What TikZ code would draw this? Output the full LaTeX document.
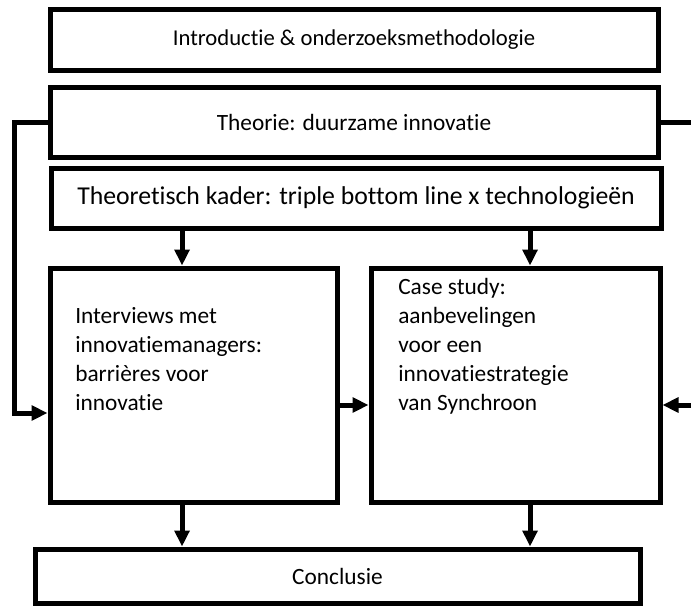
\documentclass[tikz,border=0pt]{standalone}
\usepackage{fontspec}
\setmainfont{Carlito}[Ligatures=NoCommon]
\usetikzlibrary{positioning,arrows.meta}

\begin{document}
\begin{tikzpicture}[
        x=0.75pt, y=-0.75pt,
        box/.style={rectangle, draw, line width=3.75pt, inner sep=0pt, align=center, font=\fontsize{17.5}{21.75}\selectfont},
        txt/.style={inner sep=0pt, align=left, anchor=north west, font=\fontsize{17.5}{21.75}\selectfont},
        arr/.style={-{Triangle[length=12pt, width=11pt]}, line width=3.75pt},
        lin/.style={line width=3.75pt},
    ]
    \useasboundingbox (0,0) rectangle (691,607);

    % Stacked boxes on top
    \node[box, minimum width=456pt, minimum height=45.75pt, font=\fontsize{17}{20}\selectfont] (intro) at (354,39.5) {Introductie \& onderzoeksmethodologie};
    \node[box, minimum width=456pt, minimum height=52.5pt] (theorie) at (354,122) {Theorie: duurzame innovatie};
    \node[box, minimum width=457.5pt, minimum height=45pt, font=\fontsize{19.3}{22}\selectfont] (kader) at (356,198) {Theoretisch kader: triple bottom line x technologieën};

    % Two research parts
    \node[box, minimum width=215.25pt, minimum height=175.5pt] (interviews) at (193.5,385) {};
    \node[box, minimum width=216.75pt, minimum height=175.5pt] (casestudy) at (515.5,385) {};
    \node[txt] (interviewstxt) at (75,307) {Interviews met\\innovatiemanagers:\\barrières voor\\innovatie};
    \node[txt] (casetxt) at (398,278) {Case study:\\aanbevelingen\\voor een\\innovatiestrategie\\van Synchroon};

    % Conclusion
    \node[box, minimum width=453.75pt, minimum height=40.5pt] (conclusie) at (337.5,576) {Conclusie};

    % Arrows down
    \coordinate (lcol) at ([xshift=-8.6pt]interviews.north);
    \coordinate (rcol) at ([xshift=10.9pt]casestudy.north);
    \draw[arr] (lcol |- kader.south) -- (lcol);
    \draw[arr] (rcol |- kader.south) -- (rcol);
    \draw[arr] (lcol |- interviews.south) -- (lcol |- conclusie.north);
    \draw[arr] (rcol |- casestudy.south) -- (rcol |- conclusie.north);

    % Side connectors
    \coordinate (lbend) at (14,413);
    \draw[arr] (theorie.west) -| (lbend) -- (lbend -| interviews.west);
    \coordinate (rtop) at (691,122);
    \draw[lin] (theorie.east) -- (rtop);
    \coordinate (rin) at (691,405);
    \draw[arr] (rin) -- (rin -| casestudy.east);
    \draw[arr] ([yshift=-15pt]interviews.east) -- ([yshift=-15pt]casestudy.west);

\end{tikzpicture}
\end{document}
